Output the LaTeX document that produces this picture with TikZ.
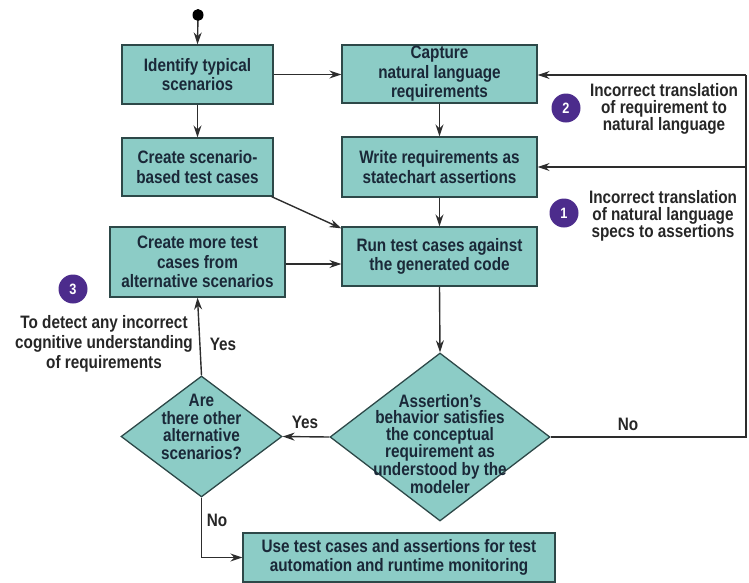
\documentclass[tikz,border=0pt]{standalone}
\usepackage{fontspec}
\setmainfont{Liberation Sans}[FakeStretch=0.85]
\usetikzlibrary{arrows.meta,shapes.geometric}
\definecolor{boxfill}{RGB}{140,204,198}
\definecolor{boxline}{RGB}{45,72,72}
\definecolor{boxtext}{RGB}{26,40,56}
\definecolor{wire}{RGB}{45,45,45}
\definecolor{badge}{RGB}{76,44,140}
\definecolor{note}{RGB}{38,38,38}
\tikzset{
  box/.style={draw=boxline, line width=1.3pt, fill=boxfill, text=boxtext,
    align=center, inner sep=0pt,
    font=\bfseries\fontsize{18}{19.5}\selectfont},
  decision/.style={diamond, draw=boxline, line width=1.3pt, fill=boxfill,
    inner sep=0pt},
  dtext/.style={text=boxtext, align=center, inner sep=0pt},
  arr/.style={draw=wire, line width=1.4pt, -{Stealth[length=12pt,width=8pt]}},
  wirepath/.style={draw=wire, line width=1.4pt},
  notetext/.style={text=note, align=center, inner sep=0pt,
    font=\bfseries\fontsize{18}{17}\selectfont},
  badgenode/.style={circle, fill=badge, text=white, minimum size=29pt,
    inner sep=0pt, font=\bfseries\fontsize{15}{15}\selectfont},
  branch/.style={text=note, inner sep=0pt,
    font=\bfseries\fontsize{18}{18}\selectfont},
}
\begin{document}
\begin{tikzpicture}[x=1pt,y=-1pt]
\useasboundingbox (0,0) rectangle (749,582);

% start point
\node[ellipse, fill=black, minimum width=11pt, minimum height=12pt, inner sep=0pt] (start) at (198,15) {};

% process boxes
\node[box, minimum width=151pt, minimum height=59pt] (b1) at (197.5,74.5)
  {Identify typical\\scenarios};
\node[box, minimum width=195pt, minimum height=58pt] (b2) at (439.5,74)
  {Capture\\natural language\\requirements};
\node[box, minimum width=151pt, minimum height=58pt] (b3) at (197.5,167)
  {Create scenario-\\based test cases};
\node[box, minimum width=195pt, minimum height=60pt] (b4) at (439.5,167)
  {Write requirements as\\statechart assertions};
\node[box, minimum width=175pt, minimum height=70pt] (b6) at (197.5,262)
  {Create more test\\cases from\\alternative scenarios};
\node[box, minimum width=195pt, minimum height=59pt] (b5) at (439.5,256.5)
  {Run test cases against\\the generated code};
\node[box, minimum width=312pt, minimum height=49pt] (b7) at (399,557.5)
  {Use test cases and assertions for test\\automation and runtime monitoring};

% decisions
\node[decision, minimum width=220pt, minimum height=168pt] (d1) at (440,437) {};
\node[dtext, font=\bfseries\fontsize{18}{16.4}\selectfont] (d1t) at (440,444)
  {Assertion's\\behavior satisfies\\the conceptual\\requirement as\\understood by the\\modeler};
\node[decision, minimum width=161pt, minimum height=121pt] (d2) at (201.5,436.5) {};
\node[dtext, font=\bfseries\fontsize{18}{17.6}\selectfont] (d2t) at (201.5,427)
  {Are\\there other\\alternative\\scenarios?};

% corners of the feedback loop
\coordinate (se) at (746,437);
\coordinate (ne) at (746,75);

% connectors
\draw[arr] (start) -- (b1.north);
\draw[arr] (b1.east) -- (b1.east -| b2.west);
\draw[arr] (b1.south) -- (b3.north);
\draw[arr] (b2.south) -- (b4.north);
\draw[arr] (b4.south) -- (b5.north);
\draw[arr] ([xshift=-2pt]b3.south east) -- ([yshift=-2pt]b5.north west);
\draw[arr] ([yshift=-2pt]b6.east) -- ([yshift=-2pt]b6.east -| b5.west);
\draw[arr] (b5.south) -- (d1.north);
\draw[arr] (d1.west) -- (d2.east);
\draw[arr] (d2.north) -- (b6.south);
\draw[arr] (d2.south) |- (b7.west);
\draw[wirepath] (d1.east) -- (se) -- (ne);
\draw[arr] (ne) -- (ne -| b2.east);
\draw[arr] (se |- b4.east) -- (b4.east);

% branch labels
\node[branch] (yes1) at (305,422) {Yes};
\node[branch] (yes2) at (223,344) {Yes};
\node[branch] (no1) at (217,520) {No};
\node[branch] (no2) at (628,424) {No};

% error notes
\node[badgenode] (n2) at (566,108) {2};
\node[notetext] (t2) at (664,108.5)
  {Incorrect translation\\of requirement to\\natural language};
\node[badgenode] (n1) at (564,213) {1};
\node[notetext] (t1) at (663,215.5)
  {Incorrect translation\\of natural language\\specs to assertions};
\node[badgenode] (n3) at (73,289) {3};
\node[notetext, font=\bfseries\fontsize{18}{20}\selectfont] (t3) at (104,343.5)
  {To detect any incorrect\\cognitive understanding\\of requirements};
\end{tikzpicture}
\end{document}
